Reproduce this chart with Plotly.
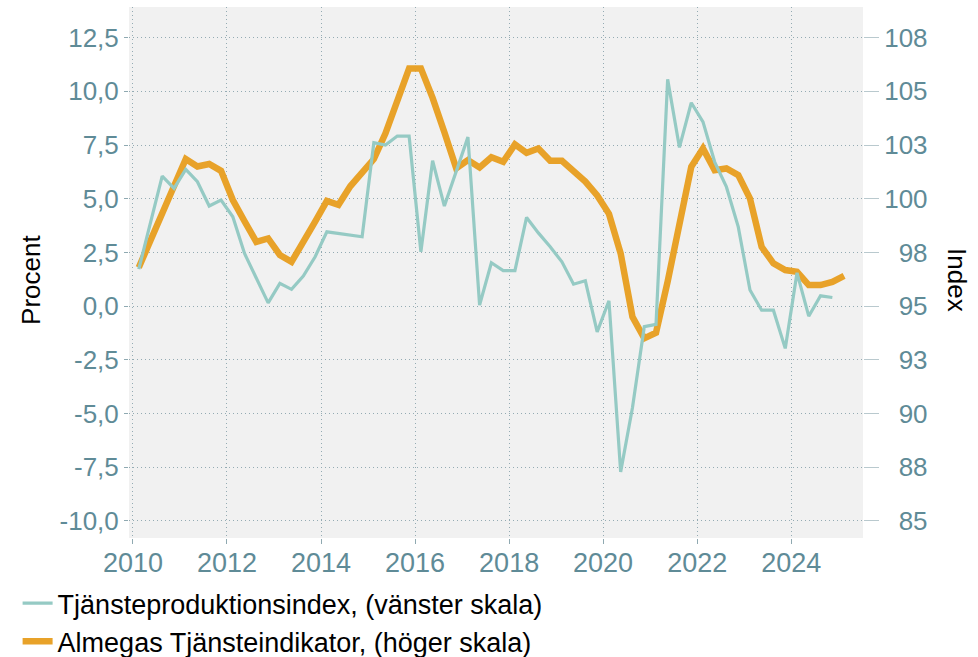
import pandas as pd
import plotly.graph_objects as go

# Quarterly data, 2010 Q1 onward (plotted at mid-quarter)
tjp_quarters = pd.period_range("2010Q1", "2024Q4", freq="Q")
alm_quarters = pd.period_range("2010Q1", "2025Q1", freq="Q")

# Tjänsteproduktionsindex, annual change in percent (left axis)
tjanste_prod = [
    1.72, 3.9, 6.05, 5.48, 6.37, 5.79, 4.66, 4.94, 4.16, 2.45,
    1.3, 0.15, 1.06, 0.78, 1.4, 2.3, 3.46, 3.38, 3.3, 3.23,
    7.61, 7.5, 7.92, 7.92, 2.53, 6.77, 4.66, 6.25, 7.87, 0.05,
    2.02, 1.65, 1.65, 4.13, 3.41, 2.76, 2.06, 1.02, 1.18, -1.2,
    0.25, -7.72, -4.73, -0.96, -0.85, 10.56, 7.39, 9.47, 8.58, 6.72,
    5.55, 3.69, 0.75, -0.19, -0.19, -1.97, 1.55, -0.47, 0.48, 0.4,
]

# Almegas Tjänsteindikator, index (right axis)
almega_ind = [
    96.8, 98.05, 99.4, 100.5, 101.85, 101.5, 101.62, 101.3, 99.94, 98.95,
    97.99, 98.15, 97.38, 97.06, 98.07, 98.93, 99.9, 99.72, 100.58, 101.18,
    101.85, 103.05, 104.55, 106.07, 106.07, 104.7, 103.1, 101.42, 101.8, 101.46,
    101.93, 101.72, 102.53, 102.14, 102.34, 101.77, 101.77, 101.3, 100.8, 100.15,
    99.3, 97.45, 94.5, 93.5, 93.76, 96.15, 98.94, 101.49, 102.34, 101.33,
    101.41, 101.1, 100.01, 97.76, 96.99, 96.68, 96.6, 95.98, 95.98, 96.13,
    96.41,
]

left_ticks = [-10.0, -7.5, -5.0, -2.5, 0.0, 2.5, 5.0, 7.5, 10.0, 12.5]
right_ticks = [85.0, 87.5, 90.0, 92.5, 95.0, 97.5, 100.0, 102.5, 105.0, 107.5]
left_range = [-10.8, 13.93]
right_offset = 95.0

name_tjp = "Tjänsteproduktionsindex, (vänster skala)"
name_alm = "Almegas Tjänsteindikator, (höger skala)"


def mid_quarter(periods):
    return [p.start_time + (p.end_time - p.start_time) / 2 for p in periods]


def left_label(v):
    return f"{v:.1f}".replace(".", ",")


def right_label(v):
    s = str(int(v + 0.5))
    return "\u00a0\u00a0" * (3 - len(s)) + s


TEAL = "#95cac4"
ORANGE = "#e8a229"
TICKC = "#5f8b97"
GRIDC = "#94abb3"
FONT = "Liberation Sans, Arial, sans-serif"

fig = go.Figure()
# Percent series on the overlaying (left) axis so it is drawn on top
fig.add_trace(go.Scatter(
    x=mid_quarter(tjp_quarters), y=tjanste_prod, name=name_tjp,
    mode="lines", line=dict(color=TEAL, width=3.2), yaxis="y2",
))
fig.add_trace(go.Scatter(
    x=mid_quarter(alm_quarters), y=almega_ind, name=name_alm,
    mode="lines", line=dict(color=ORANGE, width=6.5), yaxis="y",
))

fig.update_layout(
    width=978, height=657,
    margin=dict(l=129, r=115, t=7, b=119, autoexpand=False),
    paper_bgcolor="white",
    plot_bgcolor="#f1f1f1",
    font=dict(family=FONT, color=TICKC, size=26),
    showlegend=True,
    legend=dict(
        xref="container", yref="container",
        x=0.018, y=1 - 579 / 657, xanchor="left", yanchor="top",
        orientation="v", bgcolor="rgba(0,0,0,0)",
        font=dict(family=FONT, size=27, color="black"),
        tracegroupgap=0, itemwidth=30, traceorder="normal",
    ),
    xaxis=dict(
        type="date",
        range=["2009-12-01", "2025-07-12"],
        tick0="2010-01-01", dtick="M24", tickformat="%Y",
        showgrid=True, gridcolor=GRIDC, griddash="1px,3px", gridwidth=1,
        ticks="outside", ticklen=5, tickcolor="#8fa9b1",
        tickfont=dict(size=27, color=TICKC), tickangle=0,
        ticklabelstandoff=-4,
        showline=False, zeroline=False,
    ),
    # Index axis (right) is the base axis and carries the horizontal grid
    yaxis=dict(
        side="right",
        range=[left_range[0] + right_offset, left_range[1] + right_offset],
        tickvals=right_ticks, ticktext=[right_label(v) for v in right_ticks],
        showgrid=True, gridcolor=GRIDC, griddash="1px,3px", gridwidth=1,
        zeroline=False, showline=False,
        ticks="outside", ticklen=15, tickcolor="#b9c9ce",
        tickfont=dict(size=26, color=TICKC),
    ),
    yaxis2=dict(
        overlaying="y", side="left",
        range=left_range,
        tickvals=left_ticks, ticktext=[left_label(v) for v in left_ticks],
        showgrid=False, zeroline=False, showline=False,
        ticks="outside", ticklen=4, tickcolor="#8fa9b1",
        tickfont=dict(size=26, color=TICKC),
    ),
    annotations=[
        dict(text="Procent", xref="paper", yref="paper", x=-0.156, y=0.487,
             textangle=-90, showarrow=False,
             font=dict(family=FONT, size=26, color="black")),
        dict(text="Index", xref="paper", yref="paper", x=1.151, y=0.486,
             textangle=90, showarrow=False,
             font=dict(family=FONT, size=26, color="black")),
    ],
)

fig.write_html(
    "out.html",
    config={"displayModeBar": False},
    post_script="document.body.style.margin='0';",
)
